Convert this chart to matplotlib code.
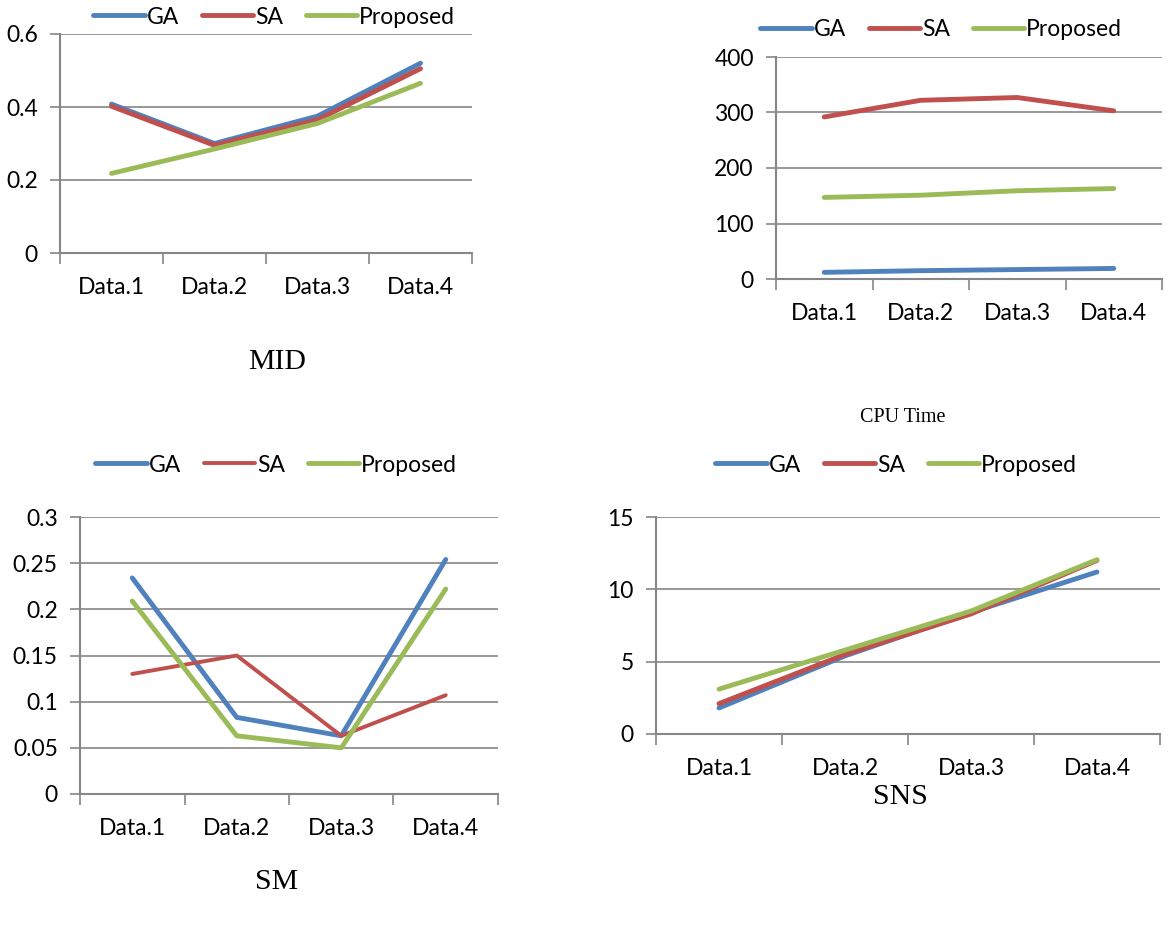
import matplotlib
matplotlib.use('Agg')
from matplotlib import pyplot as plt

plt.rcParams['font.family'] = ['Lato', 'DejaVu Sans']

categories = ['Data.1', 'Data.2', 'Data.3', 'Data.4']
series_names = ['GA', 'SA', 'Proposed']
colors = ['#4F81BD', '#C0504D', '#9BBB59']

mid_ga = [0.408, 0.300, 0.375, 0.520]
mid_sa = [0.402, 0.295, 0.365, 0.505]
mid_prop = [0.218, 0.285, 0.355, 0.465]

cpu_ga = [12, 15, 17, 19]
cpu_sa = [292, 322, 327, 303]
cpu_prop = [147, 151, 159, 163]

sm_ga = [0.234, 0.083, 0.063, 0.254]
sm_sa = [0.130, 0.150, 0.063, 0.107]
sm_prop = [0.209, 0.063, 0.050, 0.222]

sns_ga = [1.8, 5.4, 8.4, 11.2]
sns_sa = [2.1, 5.5, 8.3, 12.0]
sns_prop = [3.1, 5.8, 8.5, 12.05]

W, H = 1175, 925
fig = plt.figure(figsize=(W / 100, H / 100), dpi=100)
grey = '#868686'


def makePanel(box, data, yticks, ylabels, lw, legend_xy, title, title_xy, title_size):
    left, top, right, bottom = box
    ax = fig.add_axes([left / W, 1 - bottom / H, (right - left) / W, (bottom - top) / H])
    x = [i + 0.5 for i in range(len(categories))]
    handles = []
    for vals, c, w in zip(data, colors, lw):
        h, = ax.plot(x, vals, color=c, lw=w, solid_capstyle='round', solid_joinstyle='round')
        handles.append(h)
    ax.set_xlim(0, len(categories))
    ax.set_ylim(yticks[0], yticks[-1])
    ax.set_yticks(yticks)
    ax.set_yticklabels(ylabels, fontsize=16.5)
    ax.set_xticks(range(len(categories) + 1))
    ax.set_xticklabels([])
    ax.set_xticks(x, minor=True)
    ax.set_xticklabels(categories, minor=True, fontsize=16.5)
    ax.tick_params(axis='x', which='major', length=8, color=grey, width=1.2)
    ax.tick_params(axis='x', which='minor', length=0, pad=17)
    ax.tick_params(axis='y', length=7, color=grey, width=1.2, pad=9)
    ax.grid(axis='y', color=grey, lw=1.2)
    ax.set_axisbelow(True)
    for s in ['top', 'right']:
        ax.spines[s].set_visible(False)
    for s in ['left', 'bottom']:
        ax.spines[s].set_color(grey)
        ax.spines[s].set_linewidth(1.5)
    fig.legend(handles, series_names, loc='center left',
               bbox_to_anchor=(legend_xy[0] / W, 1 - legend_xy[1] / H),
               ncol=3, frameon=False, fontsize=16.5, handlelength=2.25,
               handletextpad=0.08, columnspacing=1.0, borderaxespad=0, borderpad=0)
    fig.text(title_xy[0] / W, 1 - title_xy[1] / H, title, ha='center', va='center',
             family='Liberation Serif', fontsize=title_size)
    return ax


makePanel((60, 34, 472, 253), [mid_ga, mid_sa, mid_prop],
          [0, 0.2, 0.4, 0.6], ['0', '0.2', '0.4', '0.6'], [3.5, 3.5, 3.5],
          (93, 17), 'MID', (277, 362), 21.5)

makePanel((776, 57, 1162, 279), [cpu_ga, cpu_sa, cpu_prop],
          [0, 100, 200, 300, 400], ['0', '100', '200', '300', '400'], [3.5, 3.5, 3.5],
          (760, 30), 'CPU Time', (903, 417), 14.5)

makePanel((80, 517, 498, 794), [sm_ga, sm_sa, sm_prop],
          [0, 0.05, 0.1, 0.15, 0.2, 0.25, 0.3],
          ['0', '0.05', '0.1', '0.15', '0.2', '0.25', '0.3'], [3.5, 2.8, 3.5],
          (95, 465), 'SM', (277, 882), 21.5)

makePanel((656, 517, 1160, 734), [sns_ga, sns_sa, sns_prop],
          [0, 5, 10, 15], ['0', '5', '10', '15'], [3.5, 3.5, 3.5],
          (715, 465), 'SNS', (900, 797), 21.5)

fig.savefig('out.png', dpi=100)
